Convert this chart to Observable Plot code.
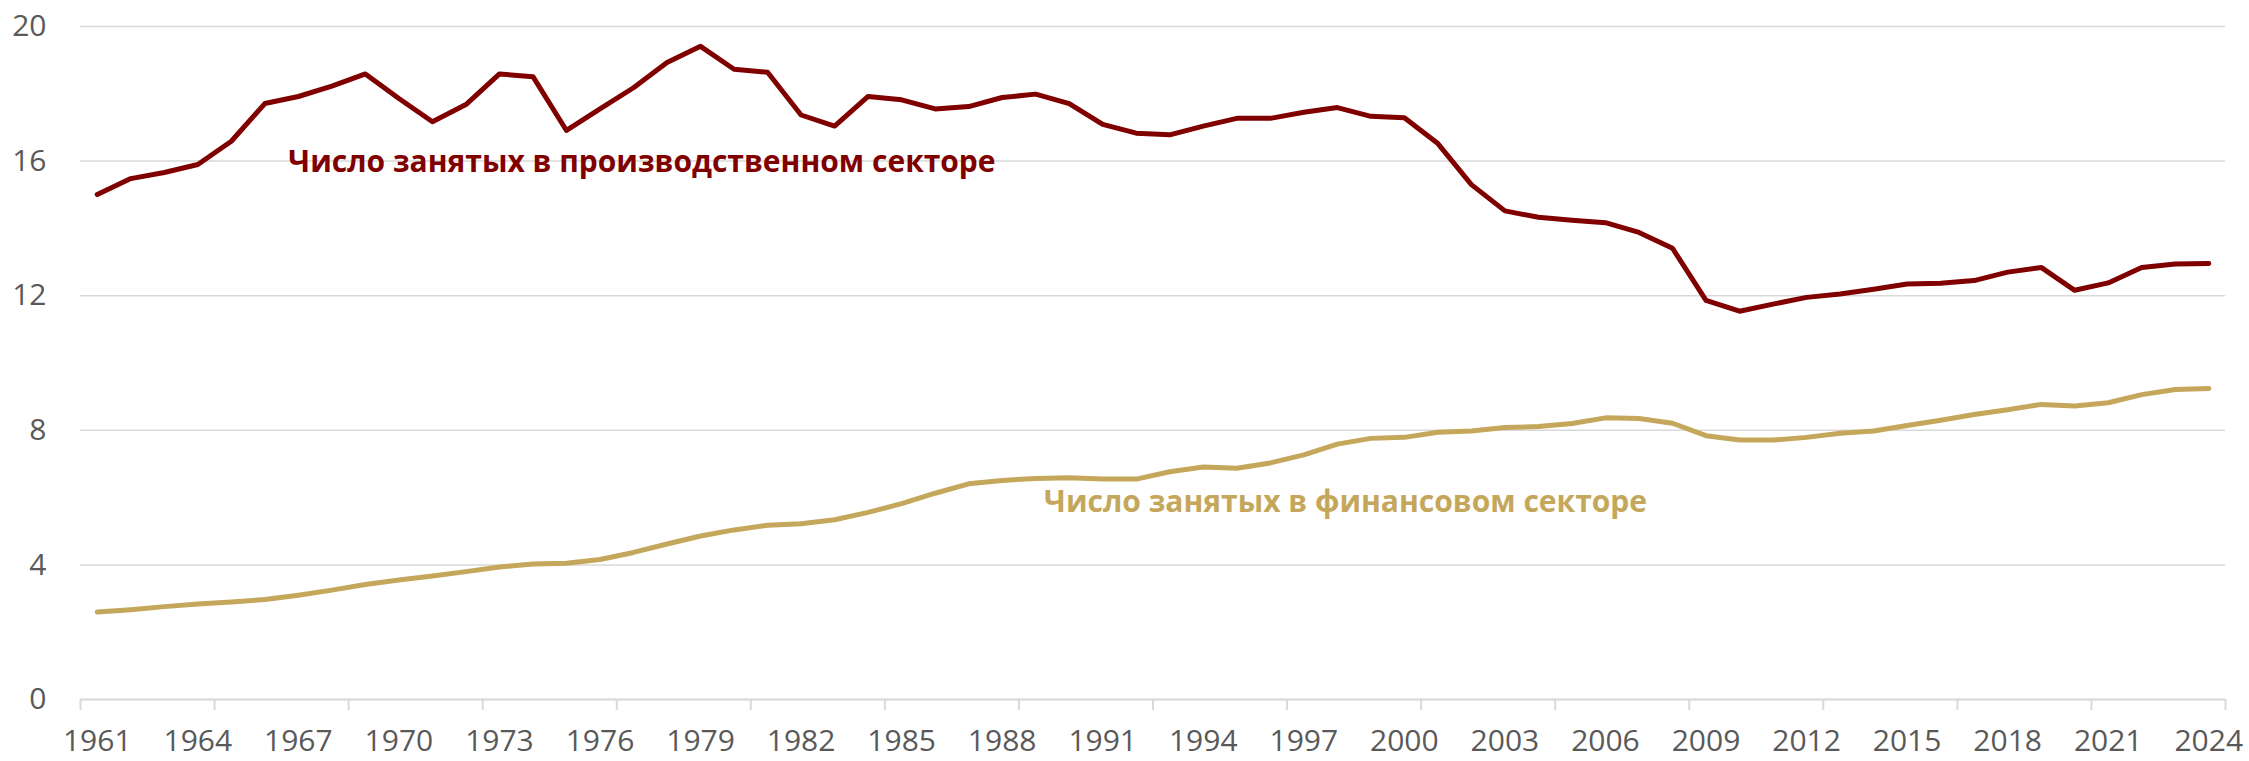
<!DOCTYPE html>
<html>
<head>
<meta charset="utf-8">
<script src="https://cdn.jsdelivr.net/npm/d3@7"></script>
<script src="https://cdn.jsdelivr.net/npm/@observablehq/plot@0.6"></script>
<style>
  html, body { margin: 0; padding: 0; background: #fff; }
  #chart svg { display: block; }
</style>
</head>
<body>
<div id="chart"></div>
<script>
// Years 1961–2024
const years = d3.range(1961, 2025);

// Employment in manufacturing sector (millions)
const manufacturing = [
  15.01, 15.48, 15.66, 15.90, 16.59, 17.71, 17.92, 18.23, 18.59, 17.86,
  17.17, 17.68, 18.59, 18.51, 16.91, 17.55, 18.18, 18.93, 19.41, 18.73,
  18.64, 17.37, 17.04, 17.92, 17.82, 17.55, 17.62, 17.89, 17.99, 17.71,
  17.09, 16.83, 16.78, 17.04, 17.27, 17.27, 17.45, 17.59, 17.33, 17.29,
  16.52, 15.30, 14.52, 14.33, 14.24, 14.17, 13.88, 13.41, 11.86, 11.54,
  11.75, 11.95, 12.05, 12.19, 12.35, 12.37, 12.45, 12.70, 12.84, 12.16,
  12.38, 12.84, 12.94, 12.96
];

// Employment in financial sector (millions)
const finance = [
  2.60, 2.67, 2.76, 2.84, 2.90, 2.97, 3.10, 3.25, 3.42, 3.55,
  3.67, 3.80, 3.94, 4.03, 4.05, 4.16, 4.37, 4.62, 4.86, 5.04,
  5.18, 5.22, 5.34, 5.56, 5.82, 6.13, 6.41, 6.51, 6.57, 6.59,
  6.55, 6.55, 6.77, 6.91, 6.87, 7.03, 7.27, 7.59, 7.76, 7.79,
  7.94, 7.98, 8.08, 8.11, 8.20, 8.37, 8.35, 8.21, 7.84, 7.71,
  7.71, 7.79, 7.91, 7.98, 8.14, 8.30, 8.47, 8.61, 8.77, 8.72,
  8.82, 9.06, 9.21, 9.24
];

// Tick labels
const yTicks = [0, 4, 8, 12, 16, 20];
const xLabelYears = d3.range(1961, 2025, 3);
const xBoundaryTicks = d3.range(1960.5, 2025, 4);

// Series labels (annotation anchors in data units)
const seriesNames = ["Число занятых в производственном секторе", "Число занятых в финансовом секторе"];
const seriesColors = ["#800000", "#c4a75b"];
const labelYears = [1966.7, 1989.25];
const labelValues = [15.95, 5.85];

const manData = years.map((y, i) => ({year: y, value: manufacturing[i]}));
const finData = years.map((y, i) => ({year: y, value: finance[i]}));
const labels = seriesNames.map((s, i) => ({name: s, year: labelYears[i], value: labelValues[i], color: seriesColors[i]}));

const font = "'Open Sans', 'Noto Sans', sans-serif";

const chart = Plot.plot({
  width: 2249,
  height: 761,
  marginLeft: 80,
  marginRight: 24,
  marginTop: 26,
  marginBottom: 62,
  style: {fontFamily: font, fontSize: "30px", color: "#595959", background: "#fff"},
  x: {type: "linear", domain: [1960.5, 2024.5]},
  y: {domain: [0, 20]},
  marks: [
    Plot.gridY(yTicks, {stroke: "#d9d9d9", strokeOpacity: 1, strokeWidth: 1.5}),
    Plot.axisY(yTicks, {tickSize: 0, tickPadding: 34, fontSize: 30, fill: "#595959", tickFormat: d => d, label: null}),
    Plot.axisX(xBoundaryTicks, {tickSize: 11, stroke: "#d9d9d9", strokeWidth: 2, tickFormat: () => "", label: null}),
    Plot.axisX(xLabelYears, {tickSize: 0, tickPadding: 30, fontSize: 30, fill: "#595959", tickFormat: d => String(d), label: null}),
    Plot.ruleY([0], {stroke: "#d9d9d9", strokeWidth: 2}),
    Plot.line(finData, {x: "year", y: "value", stroke: seriesColors[1], strokeWidth: 5}),
    Plot.line(manData, {x: "year", y: "value", stroke: seriesColors[0], strokeWidth: 5}),
    Plot.text(labels, {x: "year", y: "value", text: "name", fill: "color", textAnchor: "start", fontWeight: "bold", fontSize: 30})
  ]
});

document.getElementById("chart").appendChild(chart);
</script>
</body>
</html>
